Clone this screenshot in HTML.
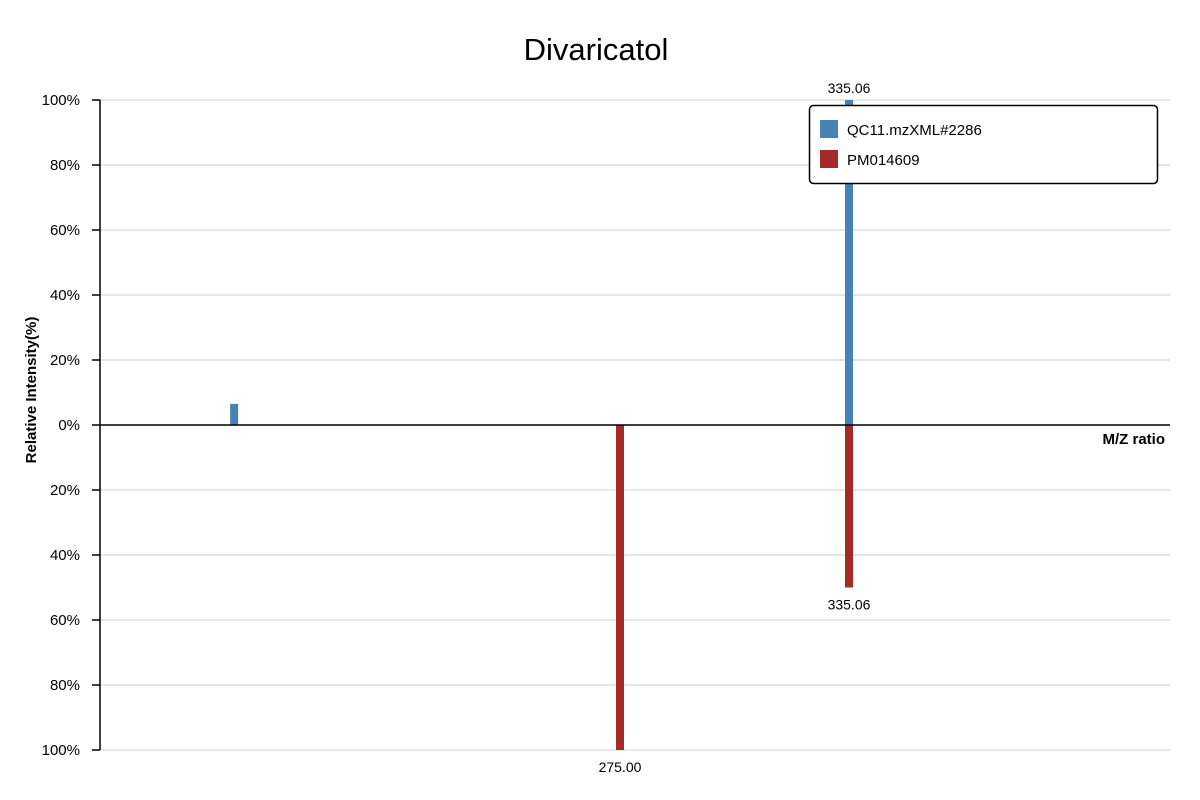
<!DOCTYPE html>
<html><head><meta charset="utf-8">
<style>
html,body{margin:0;padding:0;background:#fff;}
svg{display:block;font-family:"Liberation Sans","Noto Sans CJK SC",sans-serif;}
</style></head>
<body>
<svg id="chart" width="1200" height="800">
<text x="596" y="60" text-anchor="middle" font-size="31" fill="#000">Divaricatol</text>
<g id="grid"></g>
<g id="yaxis"></g>
<g id="bars"></g>
<line x1="100" y1="425" x2="1170" y2="425" stroke="#000" stroke-width="1.5"/>
<text x="1165" y="444" text-anchor="end" font-size="15" font-weight="bold">M/Z ratio</text>
<text transform="translate(36,390) rotate(-90)" text-anchor="middle" font-size="15" font-weight="bold">Relative Intensity(%)</text>
<g>
<rect x="809.5" y="105.5" width="348" height="78" rx="4" fill="#fff" stroke="#000" stroke-width="1.5"/>
<g>
<rect x="820" y="120" width="18" height="18" fill="#4682b4"/>
<text x="847" y="135" font-size="15">QC11.mzXML#2286</text></g>
<g>
<rect x="820" y="150" width="18" height="18" fill="#a52a2a"/>
<text x="847" y="165" font-size="15">PM014609</text></g>
</g>
</svg>
<script>
const yTicks=[100,80,60,40,20,0,20,40,60,80,100];
const queryMz=[173.8,335.06];
const queryIntensity=[6.5,100];
const queryLabels=["","335.06"];
const refMz=[275.00,335.06];
const refIntensity=[100,50];
const refLabels=["275.00","335.06"];
const NS="http://www.w3.org/2000/svg";
const x=m=>620+(m-275)*(849-620)/(335.06-275);
const yUp=v=>425-v*3.25, yDown=v=>425+v*3.25;
function mk(tag,attrs,parent){const e=document.createElementNS(NS,tag);for(const k in attrs)e.setAttribute(k,attrs[k]);parent.appendChild(e);return e;}
const grid=document.getElementById('grid'),yax=document.getElementById('yaxis'),bars=document.getElementById('bars');
yTicks.forEach((t,i)=>{const y=100+i*65;
 if(i!==5){const g=mk('line',{x1:100,x2:1170,y1:y,y2:y,stroke:'#ddd','stroke-width':1.5},grid);
 
 }
 const tk=mk('line',{x1:92,x2:100,y1:y,y2:y,stroke:'#000','stroke-width':1.5},yax);
 
 
 const tx=mk('text',{x:80,y:y+5,'text-anchor':'end','font-size':15},yax);tx.textContent=t+'%';
 
 
});
const ax=mk('line',{x1:100,x2:100,y1:100,y2:750,stroke:'#000','stroke-width':1.5},yax);


queryMz.forEach((m,i)=>{const h=queryIntensity[i]*3.25;
 const r=mk('rect',{x:x(m)-4,y:yUp(queryIntensity[i]),width:8,height:h,fill:'#4682b4'},bars);
 
 
 if(queryLabels[i]){const t=mk('text',{x:x(m),y:yUp(queryIntensity[i])-7,'text-anchor':'middle','font-size':14},bars);t.textContent=queryLabels[i];
 
 }
});
refMz.forEach((m,i)=>{const h=refIntensity[i]*3.25;
 const r=mk('rect',{x:x(m)-4,y:425,width:8,height:h,fill:'#a52a2a'},bars);
 
 
 if(refLabels[i]){const t=mk('text',{x:x(m),y:yDown(refIntensity[i])+22,'text-anchor':'middle','font-size':14},bars);t.textContent=refLabels[i];
 
 }
});
</script>
</body></html>
